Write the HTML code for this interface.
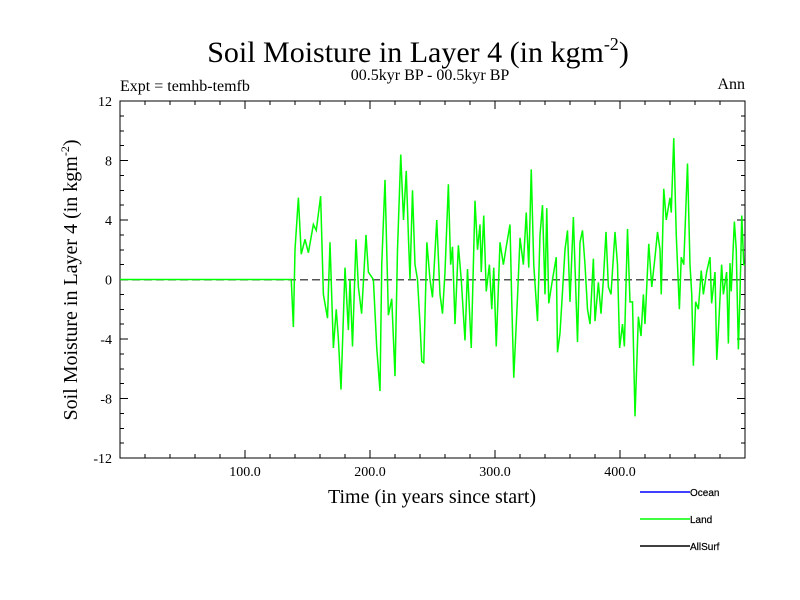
<!DOCTYPE html>
<html><head><meta charset="utf-8"><style>
body{margin:0;background:#fff;}
svg{display:block;font-family:"Liberation Serif",serif;}
</style></head><body>
<svg id="chart" width="800" height="600">
<text x="418" y="62" font-size="30" text-anchor="middle">Soil Moisture in Layer 4 (in kgm<tspan font-size="18" dy="-12">-2</tspan><tspan dy="12">)</tspan></text>
<text x="430" y="80" font-size="16" text-anchor="middle">00.5kyr BP - 00.5kyr BP</text>
<text x="120" y="91" font-size="16">Expt = temhb-temfb</text>
<text x="745" y="89" font-size="16" text-anchor="end">Ann</text>
<text x="432" y="503" font-size="20" text-anchor="middle">Time (in years since start)</text>
<text transform="translate(77,280) rotate(-90)" font-size="20" text-anchor="middle">Soil Moisture in Layer 4 (in kgm<tspan font-size="12" dy="-8">-2</tspan><tspan dy="8">)</tspan></text>
<g id="axes" shape-rendering="crispEdges"></g>
<g id="series"></g>
<g font-family="Liberation Sans, sans-serif" font-size="10" fill="#000">
<line x1="640" y1="492" x2="690" y2="492" stroke="#0000ff" stroke-width="1.5"/>
<text x="690" y="496" stroke="#000" stroke-width="0.2">Ocean</text>
<line x1="640" y1="519" x2="690" y2="519" stroke="#00ff00" stroke-width="1.5"/>
<text x="690" y="523" stroke="#000" stroke-width="0.2">Land</text>
<line x1="640" y1="546" x2="690" y2="546" stroke="#000" stroke-width="1.5"/>
<text x="690" y="550" stroke="#000" stroke-width="0.2">AllSurf</text>
</g>
</svg>
<script>
const xTicks=[100,200,300,400];
const xTickLabels=["100.0","200.0","300.0","400.0"];
const yTicks=[-12,-8,-4,0,4,8,12];
const yTickLabels=["-12","-8","-4","0","4","8","12"];
const landYears=[0,137,138.7,140,142.7,145,148,150.7,154.7,157,160.5,162.7,166,168,170.7,173,174.7,176.8,180,182.7,184,186,188.8,190.7,193.3,196.8,198.7,202.7,205.4,208,209.4,212,214.7,217.4,220,222,224.6,226.8,229,230.8,232,234,236,238,240,241.4,243,245.5,248,250,253.4,256,258,260,262.7,264.5,266,268,270.7,273,276,278,281,284,286,288,289,291,293,295.5,297.4,299,301,304,306.7,309,312,313.4,315,318,320,322.7,325,327,329,331,334,336,338,340,341.4,343,346,349,350,352,354,356,358,360,362.7,366,368,370,372,374,376,378.7,380,382.7,384.8,386.7,388.8,390.7,392.8,396,398,399.7,402,403.5,406,408,410,412,414.7,416.8,418.7,420,423,425.4,428,430,432,433,435,437,440,441,443,445,447.5,449,451,454,456,457.4,458.7,460.5,462.7,465,466.7,469.3,472,473.3,476,477.4,478.7,481.3,482.7,485.3,486.7,488,489,491.5,493,494.7,496,497.4,499,500];
const landValues=[0,0,-3.2,2,5.5,1.7,2.7,1.8,3.7,3.3,5.6,-1,-2.6,2.5,-4.6,-2,-4,-7.4,0.8,-3.4,0,-4.5,2.7,-0.5,-2.3,3,0.5,0,-4.6,-7.5,1,6.7,-2.4,-1.3,-6.5,2,8.4,4,7.3,2.7,0,6,1,0,-3,-5.5,-5.6,2.5,0,-1.2,4,-1,-2.3,0.5,6.4,1,2.2,-3,2.3,0,-4.1,0.7,-4.6,5.3,2,3.7,0.5,4.3,-0.8,1,-2,0.8,-4.5,2.5,1,2.2,3.7,-1.5,-6.6,-1.2,2.8,1,4.5,0.8,7.4,1,-2.8,3,5,-1,4.8,-1.6,0,1.5,-4.9,-3.6,-0.8,2,3.3,-1.5,4.2,-4.2,2.5,3.3,1,-2,-3,1.4,-2.8,-0.2,-2.3,0,3.2,-0.5,-1,3.2,1,-4.6,-3,-4.5,3.4,-1.5,-1.5,-9.2,-2.5,-3.8,-1,-3,2.4,-0.5,1.5,3.2,2,-1,6.1,4,5.5,4.5,9.5,3,-2,1.5,1,7.8,1,-1,-5.8,-1.5,-2,0.6,-1,0.5,1.5,-1.6,0.5,-5.4,-3.5,1,-1,0.5,-4.3,1.1,-0.8,3.9,2,-4.7,-1,4.3,1,1];
const L=120,R=745,T=101,B=458;
const xs=v=>L+(v-0)/500*(R-L);
const ys=v=>T+(12-v)/24*(B-T);
const NS="http://www.w3.org/2000/svg";
function mk(tag,attrs,parent){const e=document.createElementNS(NS,tag);for(const k in attrs)e.setAttribute(k,attrs[k]);parent.appendChild(e);return e;}
const ax=document.getElementById('axes');
const frame=mk('rect',{x:L,y:T,width:R-L,height:B-T,fill:'none',stroke:'#000','stroke-width':1},ax);


for(let v=-12;v<=12;v++){const major=v%4===0;const len=major?8:4;
mk('line',{x1:L,y1:ys(v),x2:L+len,y2:ys(v),stroke:'#000'},ax);
mk('line',{x1:R,y1:ys(v),x2:R-len,y2:ys(v),stroke:'#000'},ax);}
for(let v=20;v<500;v+=20){const major=v%100===0;const len=major?8:4;
mk('line',{x1:xs(v),y1:B,x2:xs(v),y2:B-len,stroke:'#000'},ax);
mk('line',{x1:xs(v),y1:T,x2:xs(v),y2:T+len,stroke:'#000'},ax);}
yTicks.forEach((v,i)=>{const t=mk('text',{x:L-8,y:ys(v)+5,'font-size':14,'text-anchor':'end'},ax);t.textContent=yTickLabels[i];

});
xTicks.forEach((v,i)=>{const t=mk('text',{x:xs(v),y:B+18,'font-size':14,'text-anchor':'middle'},ax);t.textContent=xTickLabels[i];

});
const zl=mk('line',{x1:L,y1:ys(0),x2:R,y2:ys(0),stroke:'#555','stroke-dasharray':'8,4','stroke-width':1.5},ax);


const sg=document.getElementById('series');
const p=mk('polyline',{points:landYears.map((y,i)=>xs(y)+','+ys(landValues[i])).join(' '),fill:'none',stroke:'#00ff00','stroke-width':1.5},sg);


</script>
</body></html>
